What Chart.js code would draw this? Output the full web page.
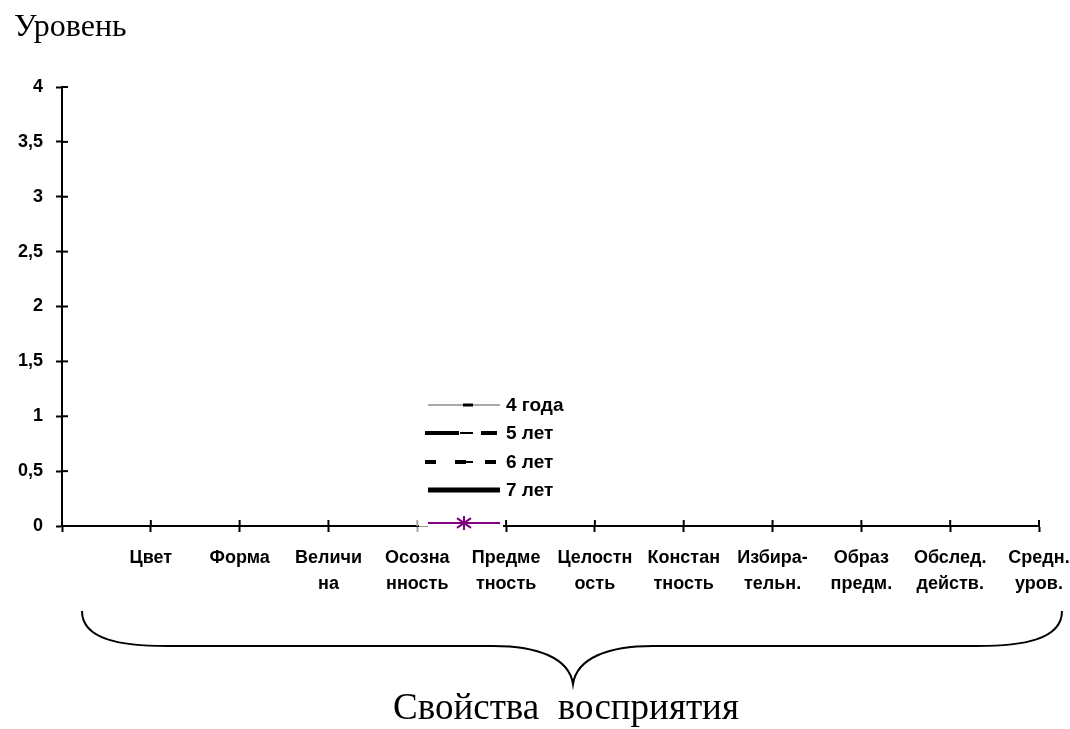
<!DOCTYPE html>
<html>
<head>
<meta charset="utf-8">
<script src="https://cdn.jsdelivr.net/npm/chart.js@4/dist/chart.umd.min.js"></script>
<style>
  html, body { margin: 0; padding: 0; background: #fff; }
  #wrap { width: 1070px; height: 729px; position: relative; }
</style>
</head>
<body>
<div id="wrap"><canvas id="chart"></canvas></div>
<script>
// Categories (perception properties), wrapped the way they are printed
const categories = [
  'Цвет', 'Форма', ['Величи', 'на'], ['Осозна', 'нность'], ['Предме', 'тность'],
  ['Целостн', 'ость'], ['Констан', 'тность'], ['Избира-', 'тельн.'],
  ['Образ', 'предм.'], ['Обслед.', 'действ.'], ['Средн.', 'уров.']
];

// Age groups
const seriesNames = ['4 года', '5 лет', '6 лет', '7 лет', ''];

// Series values per category (no plotted values)
const values4 = [null, null, null, null, null, null, null, null, null, null, null];
const values5 = [null, null, null, null, null, null, null, null, null, null, null];
const values6 = [null, null, null, null, null, null, null, null, null, null, null];
const values7 = [null, null, null, null, null, null, null, null, null, null, null];
const valuesExtra = [null, null, null, null, null, null, null, null, null, null, null];

// Value axis tick labels
const yTickLabels = ['0', '0,5', '1', '1,5', '2', '2,5', '3', '3,5', '4'];

const yTitle = 'Уровень';
const xTitle = 'Свойства  восприятия';

const SANS = '"Liberation Sans", Arial, sans-serif';
const SERIF = '"Liberation Serif", "Times New Roman", serif';

const toPoints = vals => vals.map((v, i) => ({ x: i + 1, y: v }));

// Series styles: line width, dash, colour, marker kind
const seriesStyles = [
  { color: '#000', width: 1, dash: [], marker: 'dashThick', lineColor: '#555' },
  { color: '#000', width: 4, dash: [34, 22], marker: 'dashThin' },
  { color: '#000', width: 4, dash: [11, 19], marker: 'dashThin' },
  { color: '#000', width: 5, dash: [], marker: 'none' },
  { color: '#800080', width: 2, dash: [], marker: 'star' }
];

const allValues = [values4, values5, values6, values7, valuesExtra];

const datasets = allValues.map((vals, i) => ({
  label: seriesNames[i],
  data: toPoints(vals),
  borderColor: seriesStyles[i].lineColor || seriesStyles[i].color,
  backgroundColor: seriesStyles[i].color,
  borderWidth: seriesStyles[i].width,
  borderDash: seriesStyles[i].dash,
  pointStyle: seriesStyles[i].marker === 'star' ? 'star' : 'line',
  pointRadius: 5,
  spanGaps: false
}));

// Ticks that cross the axis: draws the inner half of each tick mark
const crossTicks = {
  id: 'crossTicks',
  afterDraw(chart) {
    const { ctx } = chart;
    const xs = chart.scales.x, ys = chart.scales.y;
    ctx.save();
    ctx.lineWidth = 2;
    const y0 = ys.getPixelForValue(0);
    xs.ticks.forEach(t => {
      if (t.value === 0) return;
      const px = xs.getPixelForValue(t.value);
      ctx.strokeStyle = t.value === 4 ? '#aaa' : '#000';
      ctx.beginPath();
      ctx.moveTo(px, y0);
      ctx.lineTo(px, y0 - 6);
      ctx.stroke();
    });
    const x0 = xs.getPixelForValue(0);
    ctx.strokeStyle = '#000';
    ys.ticks.forEach(t => {
      const py = ys.getPixelForValue(t.value);
      ctx.beginPath();
      ctx.moveTo(x0, py);
      ctx.lineTo(x0 + 6, py);
      ctx.stroke();
    });
    ctx.restore();
  }
};

// Legend placed inside the plot area
const innerLegend = {
  id: 'innerLegend',
  afterDraw(chart) {
    const { ctx } = chart;
    const left = 428, right = 500, textX = 506;
    const rows = [405, 433, 462, 490, 523];
    ctx.save();
    // legend box background over the axis line
    ctx.fillStyle = '#fff';
    ctx.fillRect(419, 519, 84, 10);
    ctx.strokeStyle = '#999';
    ctx.lineWidth = 1;
    ctx.beginPath();
    ctx.moveTo(419, 526.5);
    ctx.lineTo(428, 526.5);
    ctx.stroke();

    chart.data.datasets.forEach((ds, i) => {
      const st = seriesStyles[i];
      const y = rows[i];
      const mid = (left + right) / 2;
      ctx.save();
      ctx.strokeStyle = ds.borderColor;
      ctx.lineWidth = ds.borderWidth;
      ctx.setLineDash(ds.borderDash);
      ctx.lineCap = 'butt';
      ctx.beginPath();
      const l = (st.dash.length ? left - 3 : left);
      ctx.moveTo(l, y);
      ctx.lineTo(right - (st.dash.length ? 3 : 0), y);
      ctx.stroke();
      ctx.setLineDash([]);
      // marker
      ctx.strokeStyle = st.color;
      if (st.marker === 'dashThick') {
        ctx.lineWidth = 3;
        ctx.beginPath(); ctx.moveTo(mid - 1, y); ctx.lineTo(mid + 9, y); ctx.stroke();
      } else if (st.marker === 'dashThin') {
        ctx.lineWidth = 2;
        ctx.beginPath(); ctx.moveTo(mid - 4, y); ctx.lineTo(mid + 9, y); ctx.stroke();
      } else if (st.marker === 'star') {
        ctx.lineWidth = 2;
        const r = 7;
        ctx.beginPath();
        ctx.moveTo(mid - r, y - r * 0.7); ctx.lineTo(mid + r, y + r * 0.7);
        ctx.moveTo(mid - r, y + r * 0.7); ctx.lineTo(mid + r, y - r * 0.7);
        ctx.moveTo(mid, y - r); ctx.lineTo(mid, y + r);
        ctx.stroke();
      }
      ctx.restore();
      if (ds.label) {
        ctx.fillStyle = '#000';
        ctx.font = 'bold 19px ' + SANS;
        ctx.textBaseline = 'middle';
        ctx.textAlign = 'left';
        ctx.fillText(ds.label, textX, y + 1);
      }
    });
    ctx.restore();
  }
};

// Brace under the category axis with the axis caption
const braceCaption = {
  id: 'braceCaption',
  afterDraw(chart) {
    const { ctx } = chart;
    const x1 = 82, x2 = 1062, xm = 573;
    const yTop = 611, yLine = 646, yTip = 684;
    ctx.save();
    ctx.strokeStyle = '#000';
    ctx.lineWidth = 2;
    ctx.beginPath();
    ctx.moveTo(x1, yTop);
    ctx.bezierCurveTo(x1, yLine - 6, x1 + 40, yLine, x1 + 85, yLine);
    ctx.lineTo(xm - 80, yLine);
    ctx.bezierCurveTo(xm - 35, yLine, xm - 4, yLine + 12, xm, yTip);
    ctx.bezierCurveTo(xm + 4, yLine + 12, xm + 35, yLine, xm + 80, yLine);
    ctx.lineTo(x2 - 85, yLine);
    ctx.bezierCurveTo(x2 - 40, yLine, x2, yLine - 6, x2, yTop);
    ctx.stroke();
    ctx.fillStyle = '#000';
    ctx.font = '37px ' + SERIF;
    ctx.textAlign = 'center';
    ctx.textBaseline = 'alphabetic';
    ctx.fillText(xTitle, 566, 719);
    ctx.restore();
  }
};

new Chart(document.getElementById('chart'), {
  type: 'line',
  data: { datasets },
  options: {
    responsive: true,
    maintainAspectRatio: false,
    animation: false,
    layout: { padding: { left: 14, right: 31, top: 0, bottom: 0 } },
    plugins: {
      legend: { display: false },
      tooltip: { enabled: false },
      title: {
        display: true,
        text: yTitle,
        align: 'start',
        color: '#000',
        font: { family: SERIF, size: 32, weight: 'normal', lineHeight: 1.2 },
        padding: { top: 8, bottom: 40.6 }
      }
    },
    scales: {
      x: {
        type: 'linear',
        min: 0,
        max: 11,
        afterFit(scale) {
          scale.height = 203;
          scale.paddingLeft = 0;
          scale.paddingRight = 0;
        },
        border: { display: true, color: '#000', width: 2 },
        grid: { display: true, drawOnChartArea: false, drawTicks: true, tickLength: 6, tickWidth: 2,
                tickColor: ctx => (ctx.tick && ctx.tick.value === 4) ? '#aaa' : '#000' },
        ticks: {
          stepSize: 1,
          autoSkip: false,
          maxRotation: 0,
          color: '#000',
          padding: 13,
          font: { family: SANS, size: 18, weight: 'bold', lineHeight: '26px' },
          callback: v => (v >= 1 && v <= categories.length) ? categories[v - 1] : ''
        }
      },
      y: {
        min: 0,
        max: 4,
        afterFit(scale) {
          scale.width = 48;
          scale.paddingTop = 0;
          scale.paddingBottom = 0;
        },
        border: { display: true, color: '#000', width: 2 },
        grid: { display: true, drawOnChartArea: false, drawTicks: true, tickLength: 6, tickWidth: 2, tickColor: '#000' },
        ticks: {
          stepSize: 0.5,
          color: '#000',
          padding: 13,
          font: { family: SANS, size: 18, weight: 'bold' },
          callback: (v) => yTickLabels[Math.round(v * 2)]
        }
      }
    }
  },
  plugins: [crossTicks, innerLegend, braceCaption]
});
</script>
</body>
</html>
